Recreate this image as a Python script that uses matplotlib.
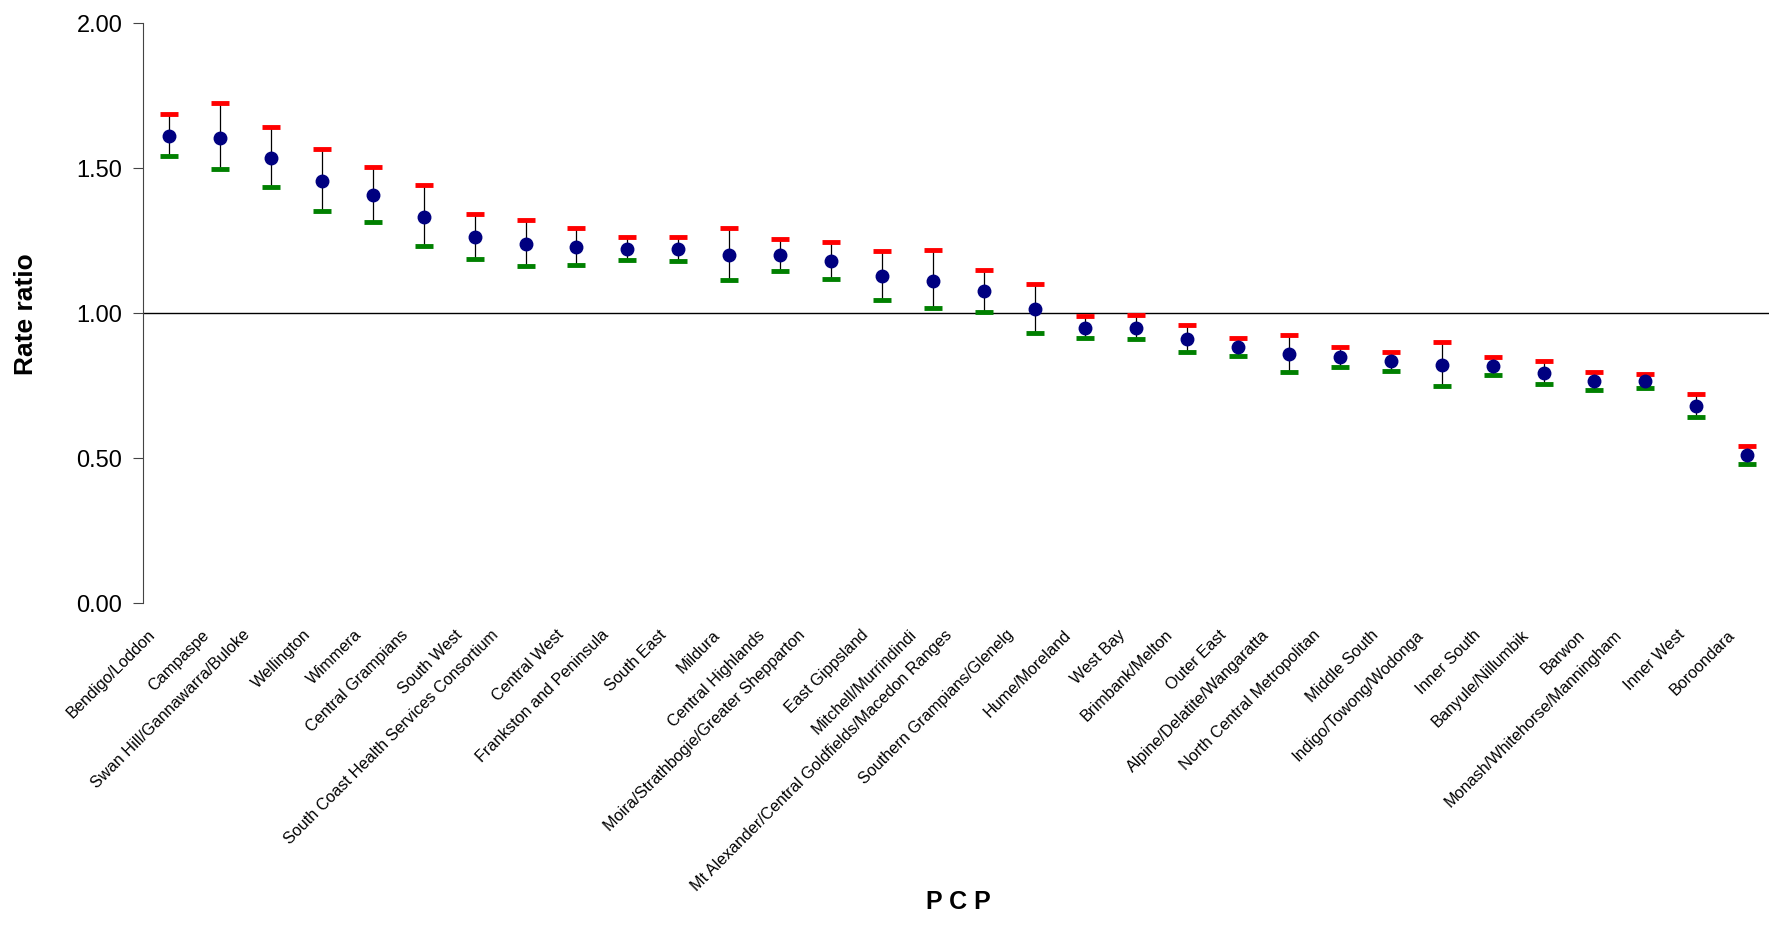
import numpy as np
import matplotlib
matplotlib.use("Agg")
from matplotlib import pyplot as plt
from matplotlib.transforms import ScaledTranslation

pcp = ["Bendigo/Loddon", "Campaspe", "Swan Hill/Gannawarra/Buloke", "Wellington",
       "Wimmera", "Central Grampians", "South West", "South Coast Health Services Consortium",
       "Central West", "Frankston and Peninsula", "South East", "Mildura",
       "Central Highlands", "Moira/Strathbogie/Greater Shepparton", "East Gippsland",
       "Mitchell/Murrindindi", "Mt Alexander/Central Goldfields/Macedon Ranges",
       "Southern Grampians/Glenelg", "Hume/Moreland", "West Bay", "Brimbank/Melton",
       "Outer East", "Alpine/Delatite/Wangaratta", "North Central Metropolitan",
       "Middle South", "Indigo/Towong/Wodonga", "Inner South", "Banyule/Nillumbik",
       "Barwon", "Monash/Whitehorse/Manningham", "Inner West", "Boroondara"]

rate = [1.610, 1.604, 1.535, 1.453, 1.405, 1.331, 1.260, 1.237, 1.226, 1.220, 1.220,
        1.198, 1.198, 1.178, 1.125, 1.110, 1.074, 1.013, 0.948, 0.948, 0.910, 0.880,
        0.856, 0.846, 0.832, 0.819, 0.815, 0.793, 0.764, 0.763, 0.678, 0.508]
upper = [1.686, 1.722, 1.641, 1.563, 1.503, 1.441, 1.341, 1.318, 1.293, 1.260, 1.261,
         1.291, 1.255, 1.243, 1.213, 1.216, 1.148, 1.100, 0.988, 0.991, 0.957, 0.914,
         0.923, 0.880, 0.865, 0.899, 0.847, 0.834, 0.796, 0.787, 0.719, 0.539]
lower = [1.539, 1.495, 1.434, 1.351, 1.313, 1.230, 1.185, 1.161, 1.166, 1.182, 1.179,
         1.113, 1.144, 1.117, 1.045, 1.015, 1.003, 0.931, 0.914, 0.908, 0.865, 0.849,
         0.795, 0.814, 0.800, 0.748, 0.786, 0.753, 0.734, 0.740, 0.641, 0.479]

x = np.arange(len(pcp))

fig = plt.figure(figsize=(17.69, 9.29), dpi=100)
ax = fig.add_axes([0.081, 0.3503, 0.919, 0.6242])

ax.axhline(1.0, color='black', lw=1.0, zorder=1)
ax.vlines(x, lower, upper, color='black', lw=0.9, zorder=2)
ax.plot(x, upper, ls='none', marker='_', ms=13, mew=3.5, color='#FF0000', zorder=3)
ax.plot(x, lower, ls='none', marker='_', ms=13, mew=3.5, color='#008000', zorder=3)
ax.plot(x, rate, ls='none', marker='o', ms=9, color='#000080', zorder=4)

ax.set_ylim(0, 2)
ax.set_xlim(-0.51, 31.43)
ax.set_yticks([0, 0.5, 1.0, 1.5, 2.0])
ax.set_yticklabels(["%.2f" % v for v in [0, 0.5, 1.0, 1.5, 2.0]],
                   fontsize=17, family='Liberation Sans')
ax.tick_params(axis='y', length=7, width=0.8, color='#444444', pad=8)

ax.set_xticks(x)
ax.set_xticklabels(pcp, rotation=45, ha='right', rotation_mode='anchor',
                   fontsize=11.7, family='Liberation Sans')
ax.tick_params(axis='x', length=0, pad=17)

for s in ['top', 'right', 'bottom']:
    ax.spines[s].set_visible(False)
ax.spines['left'].set_color('#444444')
ax.spines['left'].set_linewidth(0.8)

# longer labels sit further left of their tick, like the original
fig.canvas.draw()
for lab in ax.get_xticklabels():
    w = lab.get_window_extent().width
    L = w * np.sqrt(2) - 19
    dx = -(14 + 0.07 * L)
    lab.set_transform(lab.get_transform() + ScaledTranslation(dx / 100, 0, fig.dpi_scale_trans))

fig.text(0.0145, 0.6624, "Rate ratio", rotation=90, ha='center', va='center',
         fontsize=19, fontweight='bold', family='Liberation Sans')
fig.text(0.542, 0.016, "P C P", ha='center', va='bottom',
         fontsize=18, fontweight='bold', family='Liberation Sans')

fig.savefig("out.png", dpi=100)
